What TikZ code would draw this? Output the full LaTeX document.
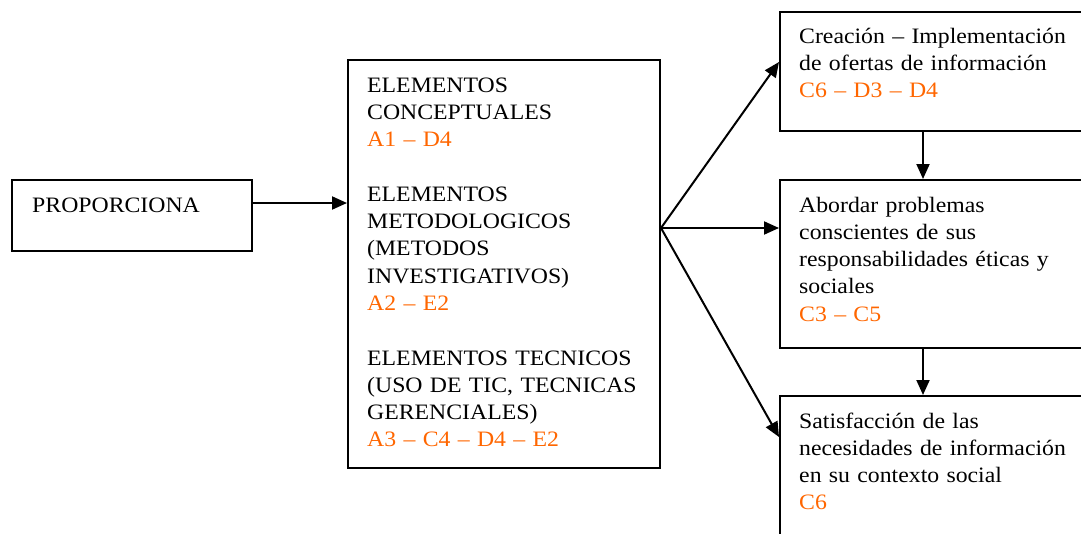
\documentclass[tikz,border=0pt]{standalone}
\usepackage{fontspec}
\setmainfont{Liberation Serif}[FakeStretch=1.08]
\usetikzlibrary{arrows.meta}
\definecolor{codeorange}{RGB}{255,102,0}
\newcommand{\cod}[1]{\textcolor{codeorange}{#1}}
\begin{document}
\begin{tikzpicture}[x=1pt,y=-1pt,
  box/.style={draw, line width=2pt, inner sep=0pt, anchor=north west},
  txt/.style={anchor=base west, inner sep=0pt, text width=#1, align=left, font=\fontsize{22}{27.3}\selectfont},
  arr/.style={line width=2pt, -{Triangle[length=15pt,width=13pt]}}]
\useasboundingbox (0,0) rectangle (1081,533);
% boxes
\node[box, minimum width=240pt, minimum height=71pt] (prop) at (11,179) {};
\node[box, minimum width=312pt, minimum height=408pt] (mid) at (347,59) {};
\node[box, minimum width=310pt, minimum height=119pt] (b1) at (779,11) {};
\node[box, minimum width=310pt, minimum height=168pt] (b2) at (779,179) {};
\node[box, minimum width=310pt, minimum height=150pt] (b3) at (779,395) {};
% texts
\node[txt=220pt] (tprop) at (32,212) {PROPORCIONA};
\node[txt=300pt] (tmid) at (367,92) {ELEMENTOS\\CONCEPTUALES\\\cod{A1 – D4}\\~\\ELEMENTOS\\METODOLOGICOS\\(METODOS\\INVESTIGATIVOS)\\\cod{A2 – E2}\\~\\ELEMENTOS TECNICOS\\(USO DE TIC, TECNICAS\\GERENCIALES)\\\cod{A3 – C4 – D4 – E2}};
\node[txt=300pt] (t1) at (799,43) {Creación – Implementación\\de ofertas de información\\\cod{C6 – D3 – D4}};
\node[txt=300pt] (t2) at (799,212) {Abordar problemas\\conscientes de sus\\responsabilidades éticas y\\sociales\\\cod{C3 – C5}};
\node[txt=300pt] (t3) at (799,428) {Satisfacción de las\\necesidades de información\\en su contexto social\\\cod{C6}};
% connectors
\draw[arr] (prop.east |- 0,203) -- (mid.west |- 0,203);
\coordinate (fan) at (mid.east |- 0,228);
\draw[arr] (fan) -- (b1.west |- 0,62);
\draw[arr] (fan) -- (b2.west |- 0,228);
\draw[arr] (fan) -- (b3.west |- 0,437);
\draw[arr] (b1.south -| 923,0) -- (b2.north -| 923,0);
\draw[arr] (b2.south -| 923,0) -- (b3.north -| 923,0);
\end{tikzpicture}
\end{document}
